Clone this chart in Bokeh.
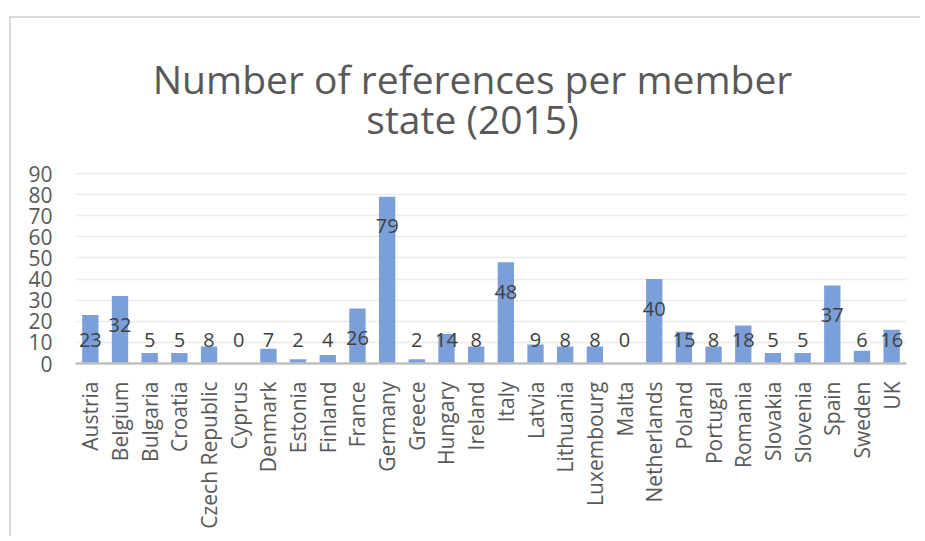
import numpy as np
from bokeh.plotting import figure
from bokeh.models import FactorRange, Range1d, FixedTicker, Label, InlineStyleSheet
from bokeh.core.properties import value
from bokeh.embed import file_html
from bokeh.resources import INLINE

countries = ["Austria", "Belgium", "Bulgaria", "Croatia", "Czech Republic", "Cyprus",
             "Denmark", "Estonia", "Finland", "France", "Germany", "Greece", "Hungary",
             "Ireland", "Italy", "Latvia", "Lithuania", "Luxembourg", "Malta",
             "Netherlands", "Poland", "Portugal", "Romania", "Slovakia", "Slovenia",
             "Spain", "Sweden", "UK"]
references = [23, 32, 5, 5, 8, 0, 7, 2, 4, 26, 79, 2, 14, 8, 48, 9, 8, 8, 0,
              40, 15, 8, 18, 5, 5, 37, 6, 16]
y_ticks = [0, 10, 20, 30, 40, 50, 60, 70, 80, 90]
title_lines = ["Number of references per member", "state (2015)"]

FONT = "Open Sans"
W, H = 920, 536
# pixel layout of the value axis: 0 at y=363, 90 at y=173 (page pixels)
AXIS_BOTTOM_PX, AXIS_TOP_PX = 363, 173
FRAME_L, FRAME_R = 75, 906
px_per_unit = (AXIS_BOTTOM_PX - AXIS_TOP_PX) / (y_ticks[-1] - y_ticks[0])
# frame reaches up to the top of the canvas so the title can live inside it
y_end = AXIS_BOTTOM_PX / px_per_unit

p = figure(
    x_range=FactorRange(*countries, range_padding=0),
    y_range=Range1d(0, y_end),
    width=W, height=H,
    output_backend="svg", toolbar_location=None,
    min_border_left=FRAME_L, min_border_right=W - FRAME_R,
    min_border_bottom=H - AXIS_BOTTOM_PX, min_border_top=0,
)
p.title = None
p.border_fill_color = None
p.background_fill_color = None
p.outline_line_color = None
p.stylesheets = [InlineStyleSheet(css=""":host {
  background:
    linear-gradient(#d9d9d9, #d9d9d9) 9px 16px / 2px 100% no-repeat,
    linear-gradient(#d9d9d9, #d9d9d9) 9px 16px / 100% 2px no-repeat,
    white;
}""")]

# two-line centred title (screen units relative to the frame's bottom-left)
title_cx = 472 - FRAME_L
for line, cy in zip(title_lines, (78, 118)):
    p.add_layout(Label(x=title_cx, y=AXIS_BOTTOM_PX - cy, x_units="screen", y_units="screen",
                       text=line, text_align="center", text_baseline="middle",
                       text_font=FONT, text_font_size="39px", text_color="#595959"))

p.vbar(x=countries, top=references, width=0.55, color="#7a9fd9", line_color=None)

vals = np.array(references, dtype=float)
label_anchor = np.maximum(vals, 25.3)
p.text(x=countries, y=label_anchor, text=[str(v) for v in references],
       text_align="center", text_baseline="middle", y_offset=29.5,
       text_font=value(FONT), text_font_size="20px", text_color="#404040")

# y axis
p.yaxis.ticker = FixedTicker(ticks=y_ticks)
p.yaxis.axis_line_color = None
p.yaxis.major_tick_line_color = None
p.yaxis.minor_tick_line_color = None
p.yaxis.major_tick_out = 0
p.yaxis.major_label_standoff = 23
p.yaxis.major_label_text_font = FONT
p.yaxis.major_label_text_font_size = "21px"
p.yaxis.major_label_text_color = "#595959"

# x axis
p.xaxis.axis_line_color = "#bfbfbf"
p.xaxis.axis_line_width = 2.5
p.xaxis.major_tick_line_color = None
p.xaxis.major_tick_out = 0
p.xaxis.major_label_orientation = np.pi / 2
p.xaxis.major_label_standoff = 18
p.xaxis.major_label_text_font = FONT
p.xaxis.major_label_text_font_size = "21px"
p.xaxis.major_label_text_color = "#595959"

p.xgrid.grid_line_color = None
p.ygrid.grid_line_color = "#ececec"
p.ygrid.grid_line_width = 1.5

open("out.html", "w").write(file_html(p, INLINE))
